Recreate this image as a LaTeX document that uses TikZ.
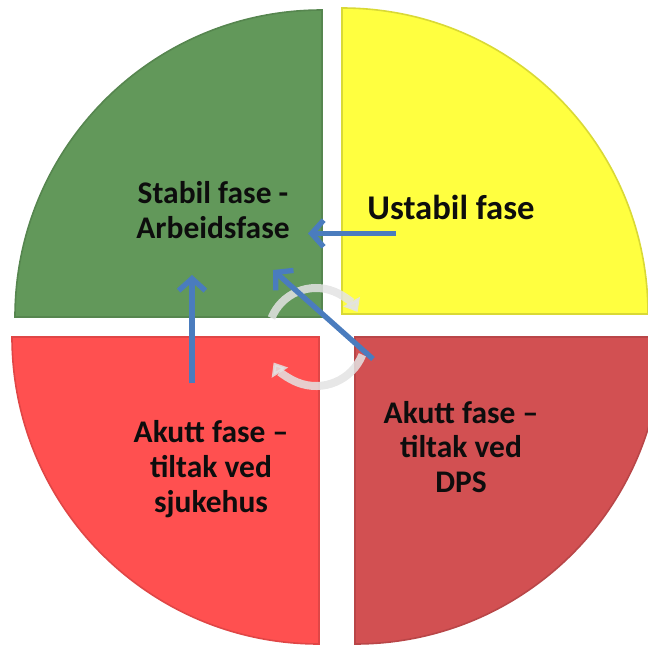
\documentclass[tikz,border=0pt]{standalone}
\usepackage{fontspec}
\setmainfont{Carlito}
\usetikzlibrary{arrows.meta}
\definecolor{stablegreen}{RGB}{98,152,90}
\definecolor{unstableyellow}{RGB}{255,255,64}
\definecolor{acutered}{RGB}{255,80,80}
\definecolor{dpsred}{RGB}{210,80,82}
\definecolor{flowblue}{RGB}{74,124,190}

\begin{document}
\begin{tikzpicture}[x=0.75pt,y=0.75pt,
    quadrant/.style={line width=1.2pt},
    phase/.style={font=\bfseries\fontsize{23.6}{26}\selectfont, align=center, text=black!95},
    flow/.style={draw=flowblue, line width=4pt, -{Straight Barb[length=9pt,width=20pt]}},
    spinarrow/.style={draw=gray!22, line width=6pt, opacity=0.85, -{Triangle[length=9pt,width=14pt]}}]
    \useasboundingbox (0,0) rectangle (648,644);
    % Quadrants of the wheel
    \filldraw[quadrant, fill=stablegreen, draw=stablegreen!88!black]
      (322,327) -- ++(-307,0) arc[start angle=180, end angle=90, radius=307] -- cycle;
    \filldraw[quadrant, fill=unstableyellow, draw=unstableyellow!85!black]
      (342,330) -- ++(0,306) arc[start angle=90, end angle=0, radius=306] -- cycle;
    \filldraw[quadrant, fill=acutered, draw=acutered!88!black]
      (319,307) -- ++(-307,0) arc[start angle=180, end angle=270, radius=307] -- cycle;
    \filldraw[quadrant, fill=dpsred, draw=dpsred!88!black]
      (355,307) -- ++(0,-307) arc[start angle=270, end angle=360, radius=307] -- cycle;
    % Cycle arrows in the middle
    \coordinate (hub) at (316,308);
    \draw[spinarrow] (hub) ++(158:48) arc[start angle=158, end angle=30, radius=48];
    \draw[spinarrow] (hub) ++(-22:50) arc[start angle=-22, end angle=-148, radius=50];
    % Phase labels
    \node[phase] (stabil) at (213,434) {Stabil fase -\\Arbeidsfase};
    \node[phase, font=\bfseries\fontsize{26}{28}\selectfont] (ustabil) at (451,437) {Ustabil fase};
    \node[phase] (sjukehus) at (211,175) {Akutt fase --\\tiltak ved\\sjukehus};
    \node[phase] (dps) at (461,197) {Akutt fase --\\tiltak ved\\DPS};
    % Arrow ends
    \coordinate (ustabil-out) at (396,410.5);
    \coordinate (stabil-right) at (308,410.5);
    \coordinate (sjukehus-out) at (192,261);
    \coordinate (stabil-below) at (192,369);
    \coordinate (dps-out) at (373,285);
    \coordinate (stabil-corner) at (273,374);
    \draw[flow] (ustabil-out) -- (stabil-right);
    \draw[flow] (sjukehus-out) -- (stabil-below);
    \draw[flow] (dps-out) -- (stabil-corner);
\end{tikzpicture}
\end{document}
